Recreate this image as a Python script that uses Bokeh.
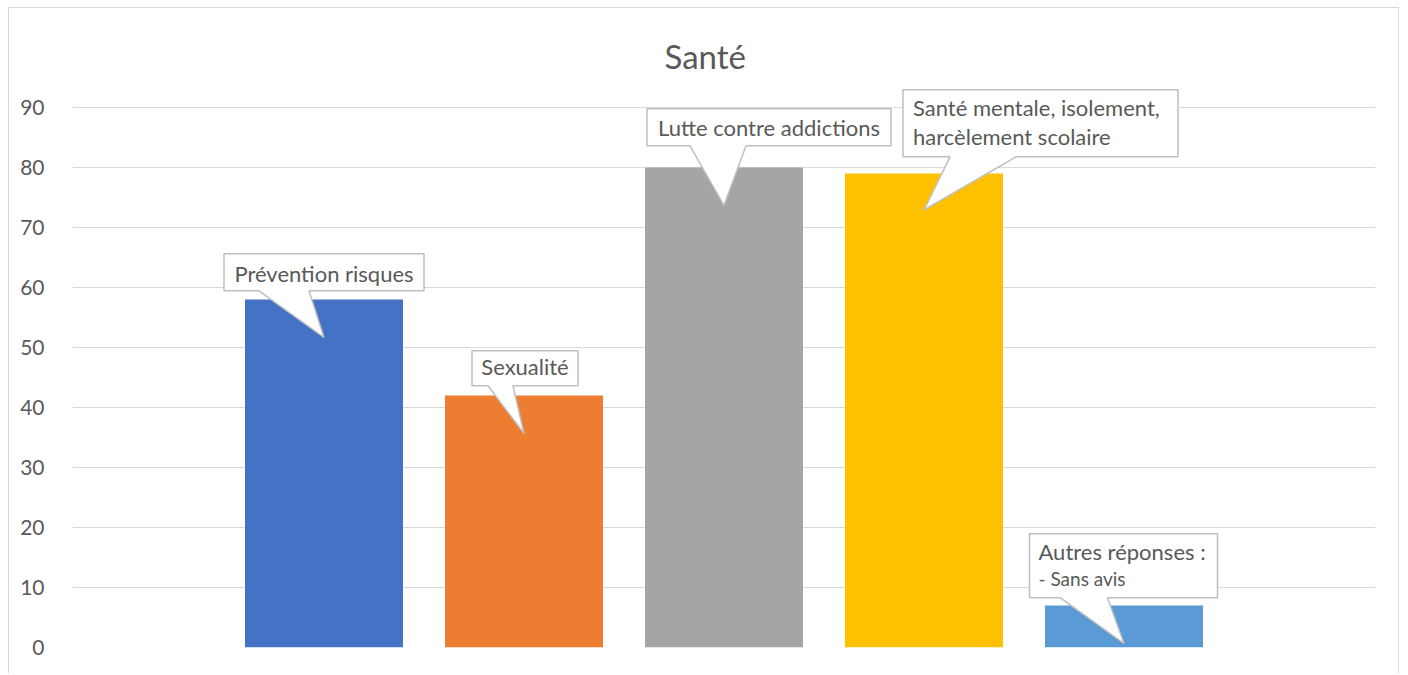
from bokeh.plotting import figure
from bokeh.models import FactorRange, Range1d, FixedTicker, ColumnDataSource
from bokeh.core.properties import value
from bokeh.embed import file_html
from bokeh.resources import INLINE

# ---- data ----
categories = ["Prévention risques", "Sexualité", "Lutte contre addictions",
              "Santé mentale, isolement, harcèlement scolaire", "Autres réponses"]
values = [58, 42, 80, 79, 7]
colors = ["#4472C4", "#ED7D31", "#A5A5A5", "#FFC000", "#5B9BD5"]
y_ticks = [0, 10, 20, 30, 40, 50, 60, 70, 80, 90]
callout_lines = [["Prévention risques"], ["Sexualité"], ["Lutte contre addictions"],
                 ["Santé mentale, isolement,", "harcèlement scolaire"],
                 ["Autres réponses :", "- Sans avis"]]
title_text = "Santé"

# ---- layout / style constants ----
FONT = "Lato"
TXT = "#595959"
PX_X = 200.0   # pixels per category unit
PX_Y = 6.0     # pixels per value unit
BASE_FIX = 9   # compensation for the renderer's alphabetic baseline placement
# callout geometry in pixels relative to (bar center, bar top): box l, r, top, bottom; pointer base l, r; tip dy
callout_geom = [
    dict(l=-100, r=100, t=45.7, b=8.7, pl=-65, pr=-15, tip=-38),
    dict(l=-52, r=54, t=44.7, b=9.7, pl=-36, pr=-11, tip=-38),
    dict(l=-77, r=167, t=58.7, b=21.7, pl=-34, pr=22, tip=-38),
    dict(l=-21, r=254, t=83.7, b=16.7, pl=26, pr=92, tip=-36.5),
    dict(l=-94.5, r=93.5, t=71.7, b=7.7, pl=-63.5, pr=-16.5, tip=-38),
]
# text line positions: (dx from box left or None for centered, baseline above bar top in px, size)
text_pos = [
    [(None, 16.7, "22px")],
    [(None, 19.7, "22px")],
    [(None, 30.7, "22px")],
    [(10, 56.7, "22px"), (10, 27.7, "22px")],
    [(9, 44.7, "22px"), (9, 17.7, "19px")],
]

p = figure(x_range=FactorRange(factors=categories, range_padding=0.7575, range_padding_units="absolute"),
           y_range=Range1d(0, 93.5),
           width=1391, height=666, output_backend="svg", toolbar_location=None,
           min_border_left=63, min_border_right=25, min_border_top=78, min_border_bottom=27,
           styles={"margin": "7px 0px 0px 8px",
                   "border-left": "1px solid #d9d9d9", "border-right": "1px solid #d9d9d9",
                   "border-top": "1px solid #d9d9d9"})
p.outline_line_color = None
p.background_fill_color = "white"
p.border_fill_color = "white"

p.title.text = title_text
p.title.align = "left"
p.title.offset = 592
p.title.standoff = 22
p.title.text_font = FONT
p.title.text_font_size = "33px"
p.title.text_font_style = "normal"
p.title.text_color = TXT

src = ColumnDataSource(dict(cat=categories, val=values, color=colors))
p.vbar(x="cat", top="val", width=0.79, fill_color="color", line_color=None, source=src)

p.xaxis.visible = False
p.xgrid.grid_line_color = None
p.yaxis.ticker = FixedTicker(ticks=y_ticks)
p.yaxis.axis_line_color = None
p.yaxis.major_tick_line_color = None
p.yaxis.minor_tick_line_color = None
p.yaxis.major_label_text_font = FONT
p.yaxis.major_label_text_font_size = "21px"
p.yaxis.major_label_text_color = TXT
p.yaxis.major_label_standoff = 22
p.ygrid.ticker = FixedTicker(ticks=y_ticks)
p.ygrid.grid_line_color = "#d9d9d9"
p.ygrid.grid_line_width = 1.2

# ---- callouts ----
xs, ys = [], []
tx, ty, tt, ts, ta = [], [], [], [], []
for i, (v, g) in enumerate(zip(values, callout_geom)):
    cx = i + 0.5
    def X(dpx):
        return cx + dpx / PX_X
    def Y(dpx):
        return v + dpx / PX_Y
    xs.append([X(g["l"]), X(g["r"]), X(g["r"]), X(g["pr"]), X(0), X(g["pl"]), X(g["l"])])
    ys.append([Y(g["t"]), Y(g["t"]), Y(g["b"]), Y(g["b"]), Y(g["tip"]), Y(g["b"]), Y(g["b"])])
    for line, (dx, dy, size) in zip(callout_lines[i], text_pos[i]):
        if dx is None:
            tx.append(X((g["l"] + g["r"]) / 2.0))
            ta.append("center")
        else:
            tx.append(X(g["l"] + dx))
            ta.append("left")
        ty.append(Y(dy + BASE_FIX))
        tt.append(line)
        ts.append(size)

p.patches(xs=xs, ys=ys, fill_color="white", line_color="#bfbfbf", line_width=1.5)
tsrc = ColumnDataSource(dict(x=tx, y=ty, text=tt, size=ts, align=ta))
p.text(x="x", y="y", text="text", text_font=value(FONT), text_font_size="size",
       text_align="align", text_baseline="alphabetic", text_color=TXT, source=tsrc)

open("out.html", "w").write(file_html(p, INLINE))
